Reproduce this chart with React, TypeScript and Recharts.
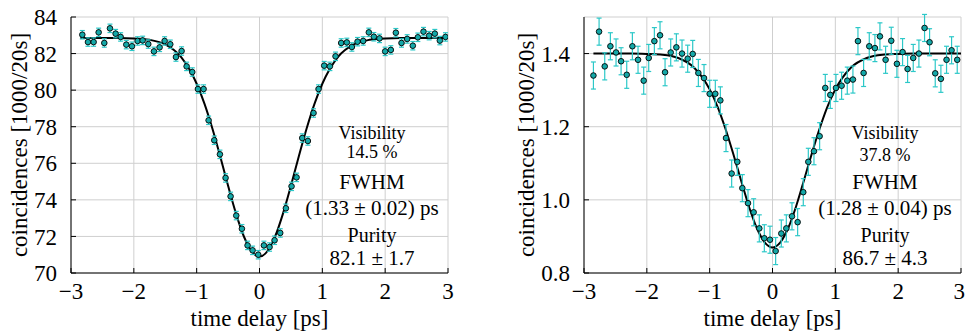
import {
    ComposedChart, Line, Scatter, ErrorBar, XAxis, YAxis, CartesianGrid
} from 'recharts';

const FONT = "'Liberation Serif', 'Times New Roman', serif";

// left panel: measured coincidences, 1000/20s
const leftDelay = [
    -2.82, -2.73, -2.64, -2.56, -2.47, -2.38, -2.29, -2.21, -2.12, -2.03, -1.94, -1.86, -1.77, -1.68,
    -1.59, -1.51, -1.42, -1.33, -1.24, -1.16, -1.07, -0.98, -0.89, -0.81, -0.72, -0.63, -0.54, -0.46,
    -0.37, -0.28, -0.19, -0.11, -0.02, 0.07, 0.16, 0.24, 0.33, 0.42, 0.51, 0.59, 0.68, 0.77, 0.86,
    0.94, 1.03, 1.12, 1.21, 1.30, 1.39, 1.47, 1.56, 1.65, 1.74, 1.82, 1.91, 2.00, 2.09, 2.17, 2.26,
    2.35, 2.44, 2.52, 2.61, 2.70, 2.79, 2.87, 2.96,
];
const leftCounts = [
    83.03, 82.63, 82.63, 83.16, 82.58, 83.38, 83.09, 82.91, 82.49, 82.40, 82.69, 82.72, 82.52, 82.12,
    82.34, 82.69, 82.51, 81.81, 82.14, 81.30, 80.99, 80.06, 80.06, 78.35, 77.26, 76.49, 75.20, 74.19,
    73.14, 72.42, 71.51, 71.24, 71.00, 71.51, 71.42, 71.79, 72.19, 73.54, 74.74, 75.23, 77.38, 77.22,
    78.75, 80.06, 81.34, 81.30, 81.85, 82.58, 82.61, 82.36, 82.65, 82.69, 83.16, 82.92, 82.83, 82.12,
    82.20, 83.14, 82.58, 82.80, 82.43, 82.89, 83.20, 82.98, 83.09, 82.71, 82.91,
];
const leftErr = 0.23;

// right panel
const rightDelay = [
    -2.85, -2.76, -2.67, -2.58, -2.49, -2.41, -2.32, -2.23, -2.14, -2.05, -1.97, -1.88, -1.79, -1.71,
    -1.62, -1.53, -1.44, -1.35, -1.27, -1.18, -1.09, -1.00, -0.91, -0.83, -0.74, -0.65, -0.56, -0.48,
    -0.39, -0.30, -0.21, -0.13, -0.04, 0.05, 0.14, 0.22, 0.31, 0.40, 0.49, 0.57, 0.66, 0.75, 0.84,
    0.92, 1.01, 1.10, 1.19, 1.28, 1.36, 1.45, 1.54, 1.63, 1.71, 1.80, 1.89, 1.98, 2.07, 2.15, 2.24,
    2.33, 2.42, 2.50, 2.59, 2.68, 2.77, 2.85, 2.94,
];
const rightCounts = [
    1.340, 1.460, 1.365, 1.420, 1.403, 1.379, 1.342, 1.420, 1.383, 1.326, 1.388, 1.434, 1.450, 1.349,
    1.403, 1.417, 1.400, 1.386, 1.399, 1.347, 1.333, 1.290, 1.290, 1.272, 1.169, 1.072, 1.104, 1.032,
    0.991, 0.966, 0.922, 0.895, 0.891, 0.860, 0.908, 0.922, 0.955, 0.939, 1.021, 1.104, 1.133, 1.174,
    1.306, 1.287, 1.306, 1.312, 1.326, 1.329, 1.434, 1.347, 1.420, 1.415, 1.447, 1.383, 1.435, 1.372,
    1.404, 1.358, 1.388, 1.400, 1.470, 1.431, 1.346, 1.331, 1.383, 1.409, 1.383,
];
const rightErr = 0.037;

// fitted dip
const fitDelay = [
    -2.85, -2.5, -2.25, -2, -1.75, -1.5, -1.25, -1, -0.875, -0.75, -0.625, -0.5, -0.375, -0.25, -0.125, 0,
    0.125, 0.25, 0.375, 0.5, 0.625, 0.75, 0.875, 1, 1.25, 1.5, 1.75, 2, 2.25, 2.5, 3,
];
const leftFit = [
    82.85, 82.85, 82.85, 82.83, 82.75, 82.50, 81.82, 80.35, 79.25, 77.90, 76.37, 74.77, 73.26, 72.01, 71.19, 70.90,
    71.19, 72.01, 73.26, 74.77, 76.37, 77.90, 79.25, 80.35, 81.82, 82.50, 82.75, 82.83, 82.85, 82.85, 82.85,
];
const rightFit = [
    1.400, 1.400, 1.400, 1.399, 1.397, 1.388, 1.362, 1.302, 1.255, 1.195, 1.126, 1.053, 0.982, 0.923, 0.884, 0.870,
    0.884, 0.923, 0.982, 1.053, 1.126, 1.195, 1.255, 1.302, 1.362, 1.388, 1.397, 1.399, 1.400, 1.400, 1.400,
];

const xTicks = [-3, -2, -1, 0, 1, 2, 3];

type Note = { text: string; size: number; y: number };

interface PanelProps {
    points: { x: number; y: number; err: number }[];
    fit: { x: number; y: number }[];
    domain: [number, number];
    yTicks: number[];
    fmt: (v: number) => string;
    axisWidth: number;
    right: number;
    labelX: number;
    noteX: number;
    notes: Note[];
}

function Panel({ points, fit, domain, yTicks, fmt, axisWidth, right, labelX, noteX, notes }: PanelProps) {
    const tickStyle = { fontSize: 23, fontFamily: FONT, fill: '#000' };
    return (
        <div style={{ position: 'relative', width: 480, height: 331 }}>
            <ComposedChart width={480} height={331} margin={{ top: 17, right, bottom: 0, left: 0 }}>
                <CartesianGrid stroke="#cfcfcf" strokeWidth={1} />
                <XAxis
                    dataKey="x" type="number" domain={[-3, 3]} ticks={xTicks} height={58}
                    allowDataOverflow
                    stroke="#000" tick={tickStyle} tickSize={-5} tickMargin={15}
                    tickFormatter={(v: number) => (v < 0 ? `\u2212${-v}` : `${v}`)}
                    label={{ value: 'time delay [ps]', position: 'insideBottom', offset: 5, ...tickStyle }}
                />
                <XAxis
                    xAxisId="top" orientation="top" dataKey="x" type="number" domain={[-3, 3]}
                    ticks={xTicks} height={0} stroke="#000" tickSize={-5} tickFormatter={() => ''}
                />
                <YAxis
                    type="number" domain={domain} ticks={yTicks} width={axisWidth} allowDataOverflow
                    stroke="#000" tick={tickStyle} tickSize={-5} tickMargin={19} tickFormatter={fmt}
                    label={(p: any) => {
                        const vb = p.viewBox;
                        const cx = vb.x + labelX;
                        const cy = vb.y + vb.height / 2;
                        return (
                            <text x={cx} y={cy} transform={`rotate(-90 ${cx} ${cy})`} textAnchor="middle"
                                fontSize={23} fontFamily={FONT} fill="#000">
                                coincidences [1000/20s]
                            </text>
                        );
                    }}
                />
                <YAxis
                    yAxisId="right" orientation="right" type="number" domain={domain} ticks={yTicks}
                    width={0} stroke="#000" tickSize={-5} tickFormatter={() => ''}
                />
                <Line data={fit} dataKey="y" type="monotone" stroke="#000" strokeWidth={2}
                    dot={false} isAnimationActive={false} />
                <Scatter data={points} dataKey="y" isAnimationActive={false}
                    shape={(p: any) => (
                        <circle cx={p.cx} cy={p.cy} r={2.8} fill="#14a8a8" stroke="#000" strokeWidth={0.9} />
                    )}>
                    <ErrorBar dataKey="err" direction="y" width={2.5} stroke="#2cc8c8" strokeWidth={1.2} />
                </Scatter>
            </ComposedChart>
            {notes.map((n, i) => (
                <div key={i} style={{
                    position: 'absolute', left: noteX, top: n.y, transform: 'translate(-50%, -50%)',
                    fontFamily: FONT, fontSize: n.size, color: '#000', whiteSpace: 'nowrap', lineHeight: 1,
                }}>{n.text}</div>
            ))}
        </div>
    );
}

export default function App() {
    const left = leftDelay.map((x, i) => ({ x, y: leftCounts[i], err: leftErr }));
    const right = rightDelay.map((x, i) => ({ x, y: rightCounts[i], err: rightErr }));
    const lFit = fitDelay.map((x, i) => ({ x, y: leftFit[i] }));
    const rFit = fitDelay.map((x, i) => ({ x, y: rightFit[i] }));

    return (
        <div style={{ position: 'relative', width: 965, height: 331, background: '#fff', overflow: 'hidden' }}>
            <style>{'body{margin:0}'}</style>
            <div style={{ position: 'absolute', left: 0, top: 0 }}>
                <Panel
                    points={left} fit={lFit} domain={[70, 84]} yTicks={[70, 72, 74, 76, 78, 80, 82, 84]}
                    fmt={(v) => `${v}`} axisWidth={71} right={32} labelX={27} noteX={372}
                    notes={[
                        { text: 'Visibility', size: 18, y: 133 },
                        { text: '14.5 %', size: 18, y: 152 },
                        { text: 'FWHM', size: 21, y: 182 },
                        { text: '(1.33 ± 0.02) ps', size: 21, y: 208 },
                        { text: 'Purity', size: 20, y: 235 },
                        { text: '82.1 ± 1.7', size: 21, y: 258 },
                    ]}
                />
            </div>
            <div style={{ position: 'absolute', left: 485, top: 0 }}>
                <Panel
                    points={right} fit={rFit} domain={[0.8, 1.5]} yTicks={[0.8, 1.0, 1.2, 1.4]}
                    fmt={(v) => v.toFixed(1)} axisWidth={99} right={4} labelX={49} noteX={400}
                    notes={[
                        { text: 'Visibility', size: 18, y: 133 },
                        { text: '37.8 %', size: 18, y: 155 },
                        { text: 'FWHM', size: 21, y: 182 },
                        { text: '(1.28 ± 0.04) ps', size: 21, y: 208 },
                        { text: 'Purity', size: 20, y: 235 },
                        { text: '86.7 ± 4.3', size: 21, y: 258 },
                    ]}
                />
            </div>
        </div>
    );
}
